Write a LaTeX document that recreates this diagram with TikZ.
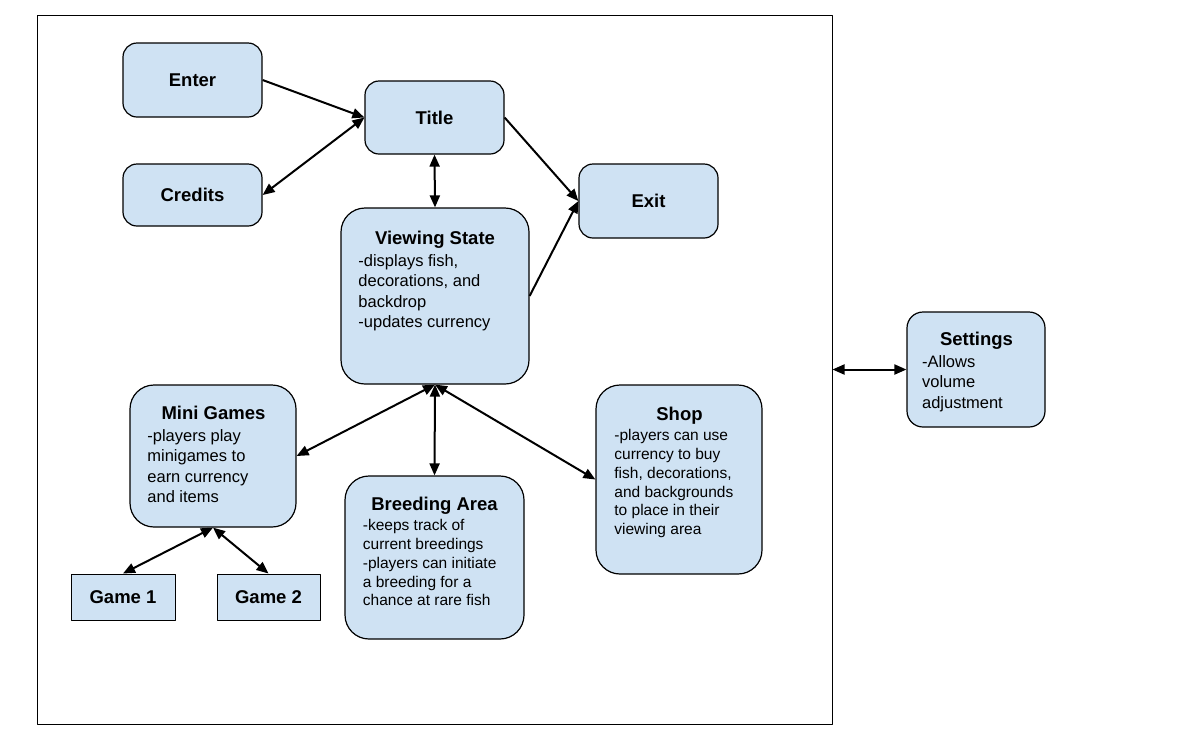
\documentclass[tikz,border=0pt]{standalone}
\usepackage{fontspec}
\setmainfont{Liberation Sans}
\usetikzlibrary{arrows.meta,positioning}
\definecolor{paleblue}{HTML}{CFE2F3}
\begin{document}
\begin{tikzpicture}[x=0.5pt,y=-0.5pt,line join=round,
	window/.style={draw=black,line width=0.5pt,minimum width=397.5pt,minimum height=354.5pt,inner sep=0},
	state/.style={draw=black,fill=paleblue,line width=0.6pt,rounded corners=7pt,inner sep=0,font=\fontsize{9.25}{11}\selectfont\bfseries},
	bigstate/.style={state,rounded corners=12pt},
	game/.style={state,sharp corners,line width=0.5pt},
	heading/.style={anchor=base,inner sep=0,font=\fontsize{9.25}{11}\selectfont\bfseries},
	notes/.style={anchor=north west,align=left,inner sep=0,font=\fontsize{8.25}{10.25}\selectfont},
	smallnotes/.style={notes,font=\fontsize{7.75}{9.45}\selectfont},
	oneway/.style={line width=1pt,-{Triangle[length=6pt,width=5pt]}},
	twoway/.style={line width=1pt,{Triangle[length=6pt,width=5pt]}-{Triangle[length=6pt,width=5pt]}}]
	\useasboundingbox (0,0) rectangle (1202,746);
	\path(434.5,369.5)node(screen)[window]{};
	\path
	(192.5,80)node(enter)[state,minimum width=69.5pt,minimum height=37pt]{Enter}
	(434.5,117.5)node(title)[state,minimum width=69.5pt,minimum height=36.5pt]{Title}
	(192.5,195)node(credits)[state,minimum width=69.5pt,minimum height=31pt]{Credits}
	(648.5,201)node(exit)[state,minimum width=69.5pt,minimum height=37pt]{Exit}
	;
	\path
	(435,296)node(view)[bigstate,minimum width=94pt,minimum height=88pt]{}
	(213,456)node(mini)[bigstate,minimum width=83pt,minimum height=71pt]{}
	(434.5,557.5)node(breed)[bigstate,minimum width=89.5pt,minimum height=81.5pt]{}
	(679,479.5)node(shop)[bigstate,minimum width=83pt,minimum height=94.5pt]{}
	(976,369.5)node(settings)[state,rounded corners=8pt,minimum width=69pt,minimum height=57.5pt]{}
	;
	\path
	(123,597)node(game1)[game,minimum width=52pt,minimum height=23pt]{Game 1}
	(268.5,597)node(game2)[game,minimum width=51.5pt,minimum height=23pt]{Game 2}
	;
	\path
	(435,244.5)node(view-name)[heading]{Viewing State}
	(358,254)node(view-text)[notes]{-displays fish,\\decorations, and\\backdrop\\-updates currency}
	(213.5,419)node(mini-name)[heading]{Mini Games}
	(147,429)node(mini-text)[notes]{-players play\\minigames to\\earn currency\\and items}
	(434.5,510.7)node(breed-name)[heading]{Breeding Area}
	(362.5,518.7)node(breed-text)[smallnotes]{-keeps track of\\current breedings\\-players can initiate\\a breeding for a\\chance at rare fish}
	(679.5,420.7)node(shop-name)[heading]{Shop}
	(614,428.7)node(shop-text)[smallnotes]{-players can use\\currency to buy\\fish, decorations,\\and backgrounds\\to place in their\\viewing area}
	(976.5,345)node(settings-name)[heading]{Settings}
	(921.7,354.7)node(settings-text)[notes]{-Allows\\volume\\adjustment}
	;
	\draw[oneway](enter.east)--(title.west);
	\draw[twoway](credits.east)--(title.west);
	\draw[twoway](title.south)--(view.north);
	\draw[oneway](title.east)--(exit.west);
	\draw[oneway](view.east)--(exit.west);
	\draw[twoway](view.south)--(mini.east);
	\draw[twoway](view.south)--(breed.north);
	\draw[twoway](view.south)--(shop.west);
	\draw[twoway](mini.south)--(game1.north);
	\draw[twoway](mini.south)--(game2.north);
	\draw[twoway](screen.east)--(settings.west);
\end{tikzpicture}
\end{document}
